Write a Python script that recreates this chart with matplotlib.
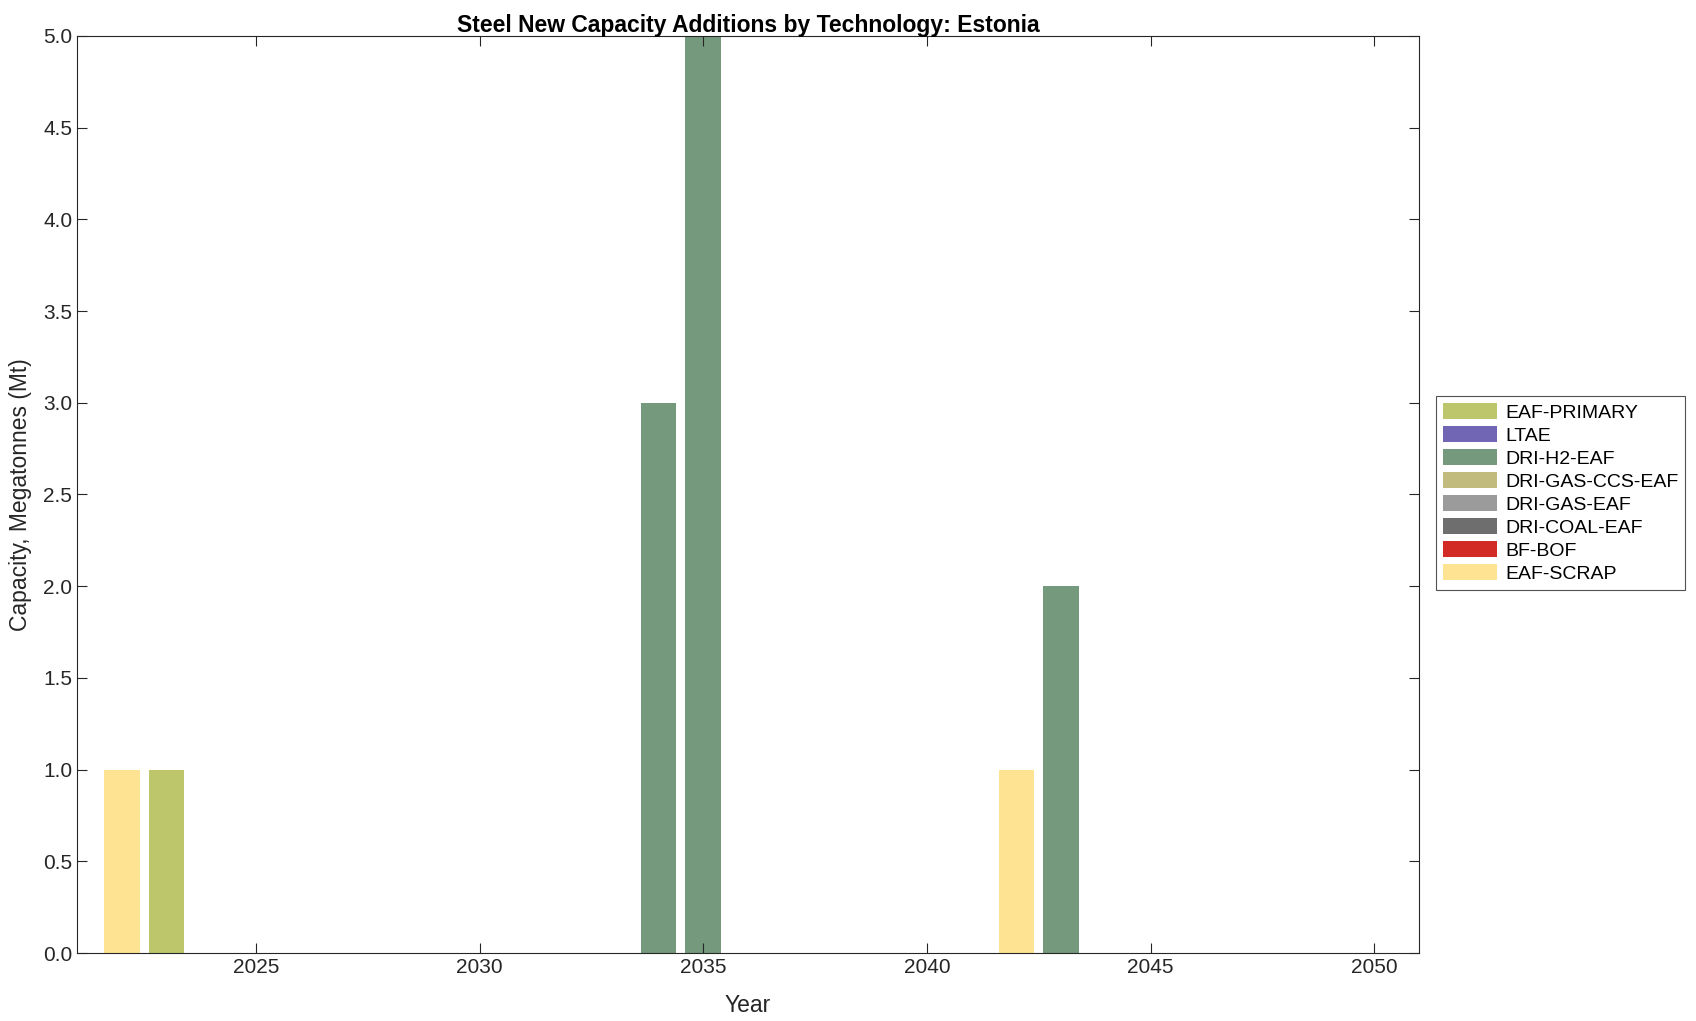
import matplotlib.pyplot as plt
import numpy as np

plt.rcParams['font.family'] = ['Liberation Sans', 'DejaVu Sans']

years = np.arange(2022, 2051)
techs = ['EAF-SCRAP', 'BF-BOF', 'DRI-COAL-EAF', 'DRI-GAS-EAF',
         'DRI-GAS-CCS-EAF', 'DRI-H2-EAF', 'LTAE', 'EAF-PRIMARY']
colors = ['#FEE492', '#D22B26', '#6E6E6E', '#9B9B9B',
          '#C1BB7D', '#74997C', '#7066B4', '#BDC66B']

# new capacity (Mt) by year, only non-zero years listed
eaf_scrap = {2022: 1, 2042: 1}
bf_bof = {}
dri_coal = {}
dri_gas = {}
dri_gas_ccs = {}
dri_h2 = {2034: 3, 2035: 5, 2043: 2}
ltae = {}
eaf_primary = {2023: 1}

series = [eaf_scrap, bf_bof, dri_coal, dri_gas, dri_gas_ccs, dri_h2, ltae, eaf_primary]

fig = plt.figure(figsize=(16.96, 10.21), dpi=100)
ax = fig.add_axes([77 / 1696, 1 - 953 / 1021, 1342 / 1696, 917 / 1021])

bottom = np.zeros(len(years))
handles = []
for name, col, s in zip(techs, colors, series):
    vals = np.array([s.get(y, 0) for y in years], dtype=float)
    b = ax.bar(years, vals, 0.8, bottom=bottom, color=col, edgecolor='none', label=name)
    handles.append(b)
    bottom += vals

ax.set_xlim(2021, 2051)
ax.set_ylim(0, 5)
ax.set_xticks(np.arange(2025, 2051, 5))
ax.set_yticks(np.arange(0, 5.01, 0.5))
ax.set_yticklabels(['%.1f' % v for v in np.arange(0, 5.01, 0.5)])
ax.tick_params(direction='in', top=True, right=True, length=7, width=0.8,
               labelsize=15, colors='#262626')
for sp in ax.spines.values():
    sp.set_linewidth(0.8)
    sp.set_color('#262626')

ax.set_xlabel('Year', fontsize=16.5, color='#262626', labelpad=12)
ax.set_ylabel('Capacity, Megatonnes (Mt)', fontsize=16.5, color='#262626', labelpad=8)
ax.set_title('Steel New Capacity Additions by Technology: Estonia',
             fontsize=16.5, fontweight='bold', pad=3)

leg = fig.legend(handles[::-1], techs[::-1], loc='upper left',
                 bbox_to_anchor=(1436 / 1696, 1 - 396 / 1021),
                 fontsize=14, frameon=True, fancybox=False, edgecolor='#262626',
                 handlelength=2.8, handleheight=0.9, handletextpad=0.4,
                 labelspacing=0.22, borderpad=0.35, borderaxespad=0)
leg.get_frame().set_linewidth(0.8)

fig.savefig('out.png', dpi=100)
